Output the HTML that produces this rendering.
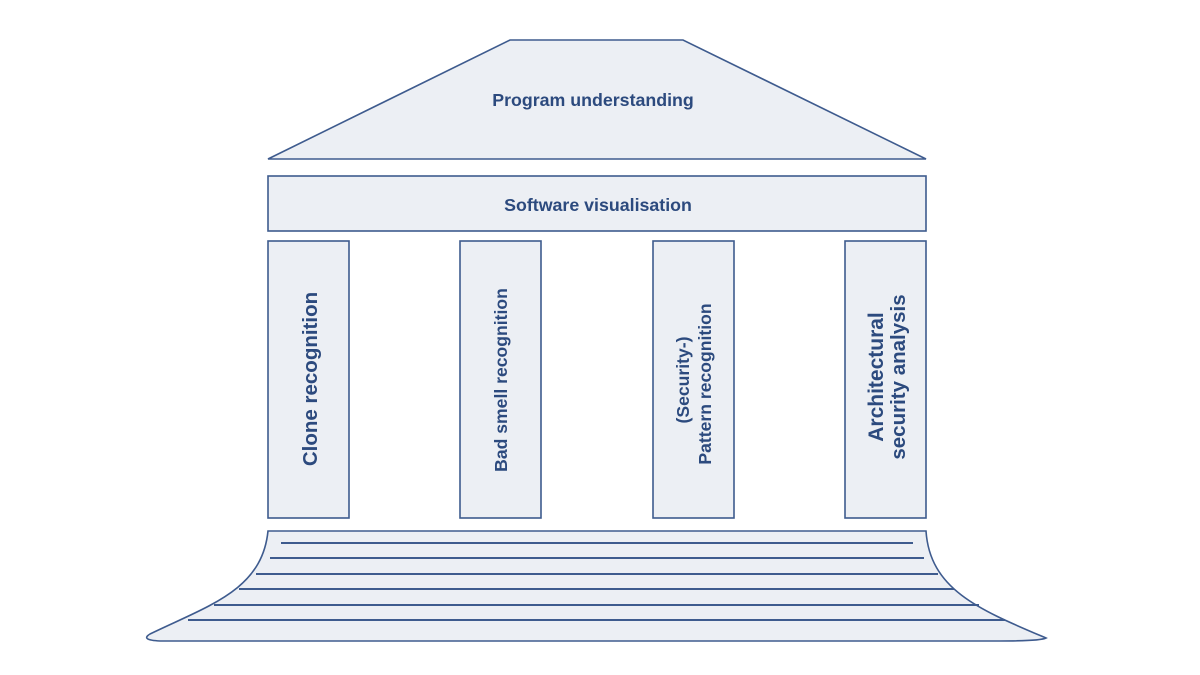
<!DOCTYPE html>
<html><head><meta charset="utf-8"><style>body{margin:0;background:#fff}svg{display:block}</style></head>
<body>
<svg width="1200" height="675" viewBox="0 0 1200 675" xmlns="http://www.w3.org/2000/svg">
<g fill="#eceff4" stroke="#3e5b8e" stroke-width="1.6">
<polygon points="510,40 683,40 926,159 268,159"/>
<rect x="268" y="176" width="658" height="55"/>
<rect x="268" y="241" width="81" height="277"/>
<rect x="460" y="241" width="81" height="277"/>
<rect x="653" y="241" width="81" height="277"/>
<rect x="845" y="241" width="81" height="277"/>
<path d="M268,531 L926,531 C930,590 980,610 1046,638 Q1040,641 1000,641 L160,641 Q140,640 150,634 C210,605 262,590 268,531 Z"/>
</g>
<g stroke="#3e5b8e" stroke-width="2">
<line x1="281" y1="543" x2="913" y2="543"/>
<line x1="270" y1="558" x2="924" y2="558"/>
<line x1="256" y1="574" x2="938" y2="574"/>
<line x1="239" y1="589" x2="954" y2="589"/>
<line x1="214" y1="605" x2="979" y2="605"/>
<line x1="188" y1="620" x2="1005" y2="620"/>
</g>
<g fill="#2c4a7e" font-family="Liberation Sans, sans-serif" font-weight="bold" text-anchor="middle">
<text x="593" y="106" font-size="17.8">Program understanding</text>
<text x="598" y="211" font-size="17.8">Software visualisation</text>
<text transform="translate(317,379) rotate(-90)" font-size="20.5">Clone recognition</text>
<text transform="translate(507,380) rotate(-90)" font-size="17.6">Bad smell recognition</text>
<text transform="translate(689,380) rotate(-90)" font-size="17.6">(Security-)</text>
<text transform="translate(711,384) rotate(-90)" font-size="17.6">Pattern recognition</text>
<text transform="translate(883,377) rotate(-90)" font-size="21">Architectural</text>
<text transform="translate(905,377) rotate(-90)" font-size="20.5">security analysis</text>
</g>
</svg>
</body></html>
